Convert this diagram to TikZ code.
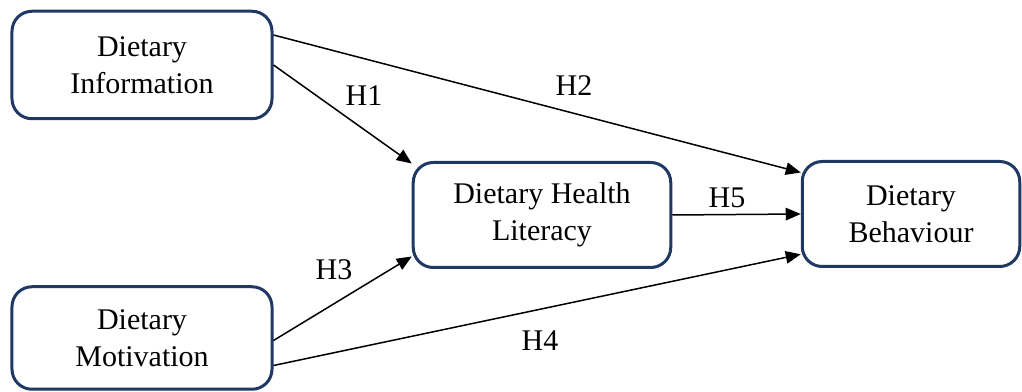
\documentclass[tikz,border=0pt]{standalone}
\usepackage{fontspec}
\setmainfont{Liberation Serif}
\usetikzlibrary{arrows.meta,positioning}
\definecolor{navyframe}{HTML}{1F3864}

\begin{document}
\begin{tikzpicture}[
    x=0.4pt, y=-0.4pt,
    >={Triangle[length=6pt,width=5pt]},
    font=\fontsize{12}{15}\selectfont,
    construct/.style={draw=navyframe, line width=1.2pt, rounded corners=8pt, fill=white, align=center, inner sep=2pt},
    path/.style={black, line width=0.6pt, ->},
    hyp/.style={inner sep=1pt}
]

% -------- frame (pixel grid of the reference) --------
\useasboundingbox (0,0) rectangle (1022,392);

% -------- constructs --------
\node[construct, minimum width=104pt, minimum height=43pt] (info) at (142,65) {Dietary\\Information};
\node[construct, minimum width=104pt, minimum height=41pt] (motiv) at (142,338) {Dietary\\Motivation};
\node[construct, minimum width=103pt, minimum height=42pt] (lit) at (542,215) {Dietary Health\\Literacy};
\node[construct, minimum width=87pt, minimum height=42pt] (behav) at (911,214) {Dietary\\Behaviour};

% -------- hypothesised paths --------
\draw[path] ([yshift=12pt]info.east) -- ([yshift=-5pt]behav.north west);
\draw[path] (info.east) -- ([yshift=-1pt]lit.north west);
\draw[path] (lit.east) -- (behav.west);
\draw[path] ([yshift=-1pt]motiv.east) -- ([yshift=5pt]lit.south west);
\draw[path] ([yshift=-11pt]motiv.east) -- ([yshift=5.5pt]behav.south west);

% -------- labels --------
\node[hyp] (h1) at (364,96) {H1};
\node[hyp] (h2) at (574,86) {H2};
\node[hyp] (h3) at (334,270) {H3};
\node[hyp] (h4) at (540,341) {H4};
\node[hyp] (h5) at (727,198) {H5};

\end{tikzpicture}
\end{document}
